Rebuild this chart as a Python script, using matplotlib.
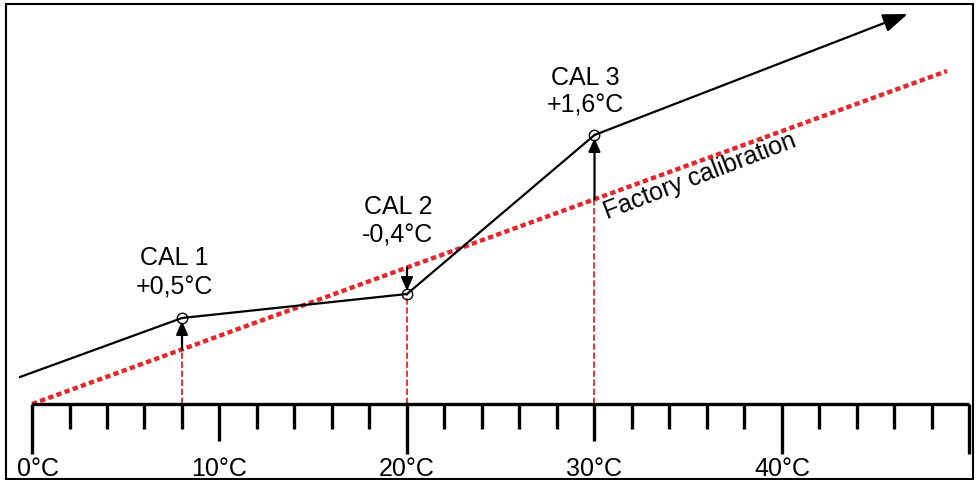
import numpy as np
import matplotlib
matplotlib.use("Agg")
import matplotlib.pyplot as plt
from matplotlib.patches import Rectangle

plt.rcParams['font.family'] = ['Liberation Sans', 'DejaVu Sans']

# scale (deg C) and its labels
tick_temps = np.arange(0, 51, 2)
label_temps = [0, 10, 20, 30, 40]
tick_labels = ['0°C', '10°C', '20°C', '30°C', '40°C']

# factory calibration line (x in deg C, y = height above scale)
factory_x = [0, 48.8]
factory_y = [0, 333]

# calibrated curve through the three user points, last point is the arrow tip
curve_x = [-0.64, 8, 20, 30, 46.7]
curve_y = [27, 86, 110, 269, 390]

cal_temps = [8, 20, 30]
cal_names = ['CAL 1', 'CAL 2', 'CAL 3']
cal_offsets = ['+0,5°C', '-0,4°C', '+1,6°C']

RED = '#e5262b'
FS = 18

fig = plt.figure(figsize=(9.78, 4.81), dpi=100)
ax = fig.add_axes([0, 0, 1, 1])
ax.set_xlim(-32 / 18.75, 946 / 18.75)
ax.set_ylim(-76, 405)
ax.axis('off')

def factory(t):
    return np.interp(t, factory_x, factory_y)

# scale
ax.plot([tick_temps[0], tick_temps[-1]], [0, 0], color='black', lw=2.4, solid_capstyle='butt', zorder=3)
for t in tick_temps:
    if t % 20 == 0 or t == tick_temps[-1]:
        ln = 50
    elif t % 10 == 0:
        ln = 37
    else:
        ln = 25
    ax.plot([t, t], [0, -ln], color='black', lw=2.4, solid_capstyle='butt', zorder=3)
for t, lab in zip(label_temps, tick_labels):
    dx = 0.32 if t == 0 else 0
    ax.text(t + dx, -64, lab, ha='center', va='center', fontsize=FS)

# factory line
ax.plot(factory_x, factory_y, color=RED, lw=3.2, ls=(0, (1.2, 0.75)),
        dash_capstyle='butt', zorder=2)
ax.text(702 / 18.75 - 32 / 18.75, 405 - 183, 'Factory calibration', fontsize=FS,
        rotation=21, rotation_mode='anchor', ha='center', va='baseline')

# red guides from the scale
cal_y = [curve_y[curve_x.index(t)] for t in cal_temps]
for t, cy in zip(cal_temps, cal_y):
    top = min(cy, factory(t))
    ax.plot([t, t], [0, top], color=RED, lw=1.3, ls=(0, (3.5, 1.5)), zorder=1)

# calibrated curve
ax.plot(curve_x[:-1], curve_y[:-1], color='black', lw=1.6, zorder=4, solid_joinstyle='miter')
ax.annotate('', xy=(curve_x[-1], curve_y[-1]), xytext=(curve_x[-2], curve_y[-2]),
            arrowprops=dict(arrowstyle='-|>,head_length=0.75,head_width=0.28',
                            mutation_scale=20, lw=1.6, color='black',
                            shrinkA=0, shrinkB=0), zorder=4)

# offset arrows and markers
for t, cy in zip(cal_temps, cal_y):
    fy = factory(t)
    tip = cy - 3 if cy > fy else cy + 3
    ax.annotate('', xy=(t, tip), xytext=(t, fy),
                arrowprops=dict(arrowstyle='-|>,head_length=0.5,head_width=0.22',
                                mutation_scale=16, lw=1.6, color='black',
                                shrinkA=0, shrinkB=0), zorder=5)
    ax.plot(t, cy, 'o', ms=7.5, mfc='none', mec='black', mew=1.0, zorder=6)

# labels
label_pos = [(174, 258, 288), (398, 207, 236), (585, 78, 106)]
for (px, y1, y2), name, off in zip(label_pos, cal_names, cal_offsets):
    tx = (px - 32) / 18.75
    ax.text(tx, 405 - y1, name, ha='center', va='center', fontsize=FS)
    ax.text(tx, 405 - y2, off, ha='center', va='center', fontsize=FS)

# frame around the picture
fig.patches.append(Rectangle((6 / 978, 1 - 480 / 481), 967 / 978, 475 / 481,
                             transform=fig.transFigure, fill=False,
                             edgecolor='black', lw=1.5))

fig.savefig('out.png', dpi=100)
